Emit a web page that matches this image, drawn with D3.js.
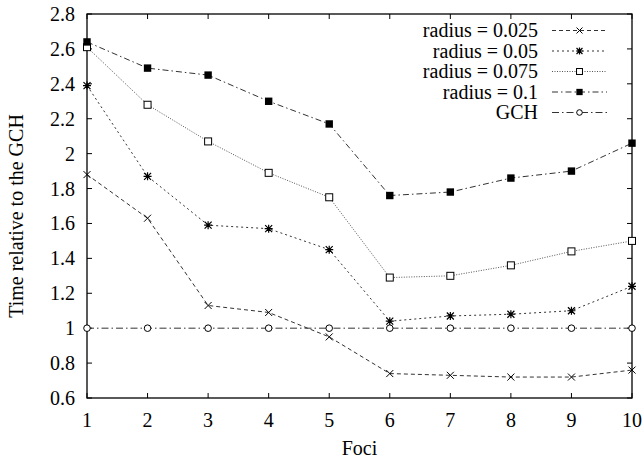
<!DOCTYPE html>
<html><head><meta charset="utf-8">
<script src="https://cdn.jsdelivr.net/npm/d3@7"></script>
<style>body{margin:0;background:#fff}svg text{font-family:'Liberation Serif','Times New Roman',Times,'DejaVu Serif',serif;fill:#000}</style>
</head><body><svg id="c" width="643" height="461" font-family="Liberation Serif, Times New Roman, serif"></svg>
<script>
const foci = [1,2,3,4,5,6,7,8,9,10];
const r025 = [1.88,1.63,1.13,1.09,0.95,0.74,0.73,0.72,0.72,0.76];
const r05  = [2.39,1.87,1.59,1.57,1.45,1.04,1.07,1.08,1.10,1.24];
const r075 = [2.61,2.28,2.07,1.89,1.75,1.29,1.30,1.36,1.44,1.50];
const r1   = [2.64,2.49,2.45,2.30,2.17,1.76,1.78,1.86,1.90,2.06];
const gch  = [1,1,1,1,1,1,1,1,1,1];
const yTicks = [0.6,0.8,1,1.2,1.4,1.6,1.8,2,2.2,2.4,2.6,2.8];
const seriesNames = ["radius = 0.025","radius = 0.05","radius = 0.075","radius = 0.1","GCH"];

const series = [
  {name:seriesNames[0], v:r025, dash:"4,3", mk:"x", col:"#333"},
  {name:seriesNames[1], v:r05, dash:"2,3", mk:"star", col:"#333"},
  {name:seriesNames[2], v:r075, dash:"1,1.5", mk:"sq", col:"#555"},
  {name:seriesNames[3], v:r1, dash:"6,3,1.5,3", mk:"fsq", col:"#333"},
  {name:seriesNames[4], v:gch, dash:"7,3,1.5,3", mk:"circ", col:"#333"}
];

const FF = "'Liberation Serif', 'Times New Roman', serif";
const svg = d3.select("#c");
const L=87,R=632,T=14,B=398;
const FS=20;
const x = d3.scaleLinear().domain([1,10]).range([L,R]);
const y = d3.scaleLinear().domain([0.6,2.8]).range([B,T]);

function txt(sel){ return sel.append("text").attr("font-family",FF).style("font-family",FF).attr("font-size",FS); }

const g = svg.append("g");
const tl=5;
yTicks.forEach(t=>{
  g.append("line").attr("x1",L).attr("x2",L+tl).attr("y1",y(t)).attr("y2",y(t)).attr("stroke","#000");
  g.append("line").attr("x1",R).attr("x2",R-tl).attr("y1",y(t)).attr("y2",y(t)).attr("stroke","#000");
  txt(g).attr("x",L-12).attr("y",y(t)+7).attr("text-anchor","end").text(d3.format("")(t));
});
foci.forEach(t=>{
  g.append("line").attr("x1",x(t)).attr("x2",x(t)).attr("y1",B).attr("y2",B-tl).attr("stroke","#000");
  g.append("line").attr("x1",x(t)).attr("x2",x(t)).attr("y1",T).attr("y2",T+tl).attr("stroke","#000");
  txt(g).attr("x",x(t)).attr("y",B+29).attr("text-anchor","middle").text(t);
});
g.append("rect").attr("x",L).attr("y",T).attr("width",R-L).attr("height",B-T).attr("fill","none").attr("stroke","#000").attr("stroke-width",1.3);

txt(svg).attr("x",(L+R)/2).attr("y",455).attr("text-anchor","middle").text("Foci");
txt(svg).attr("transform",`translate(23,216) rotate(-90)`).attr("text-anchor","middle").text("Time relative to the GCH");

function marker(sel, type, cx, cy, s){
  s = s||1;
  const a=3.5*s;
  if(type==="x"){
    sel.append("path").attr("d",`M${cx-a},${cy-a}L${cx+a},${cy+a}M${cx-a},${cy+a}L${cx+a},${cy-a}`).attr("stroke","#000").attr("stroke-width",1);
  } else if(type==="star"){
    const b=4*s;
    sel.append("path").attr("d",`M${cx-a},${cy-a}L${cx+a},${cy+a}M${cx-a},${cy+a}L${cx+a},${cy-a}M${cx},${cy-b}L${cx},${cy+b}M${cx-b},${cy}L${cx+b},${cy}`).attr("stroke","#000").attr("stroke-width",1.2);
  } else if(type==="sq"){
    sel.append("rect").attr("x",cx-a).attr("y",cy-a).attr("width",2*a).attr("height",2*a).attr("fill","#fff").attr("stroke","#000").attr("stroke-width",1);
  } else if(type==="fsq"){
    const c=3.7*s;
    sel.append("rect").attr("x",cx-c).attr("y",cy-c).attr("width",2*c).attr("height",2*c).attr("fill","#000");
  } else if(type==="circ"){
    sel.append("circle").attr("cx",cx).attr("cy",cy).attr("r",3.3*s).attr("fill","#fff").attr("stroke","#000").attr("stroke-width",1);
  }
}

const line = d3.line().x((d,i)=>x(foci[i])).y(d=>y(d));
series.forEach(s=>{
  const sg = svg.append("g");
  sg.append("path").attr("d",line(s.v)).attr("fill","none").attr("stroke",s.col).attr("stroke-width",1).attr("stroke-dasharray",s.dash);
  s.v.forEach((v,i)=>marker(sg,s.mk,x(foci[i]),y(v)));
});

series.forEach((s,i)=>{
  const ly = 30.5 + i*20.5;
  txt(svg).attr("x",538).attr("y",ly+6.5).attr("text-anchor","end").text(s.name);
  svg.append("line").attr("x1",552).attr("x2",607).attr("y1",ly).attr("y2",ly).attr("stroke",s.col).attr("stroke-width",1).attr("stroke-dasharray",s.dash);
  marker(svg,s.mk,579.5,ly,0.85);
});
</script></body></html>
